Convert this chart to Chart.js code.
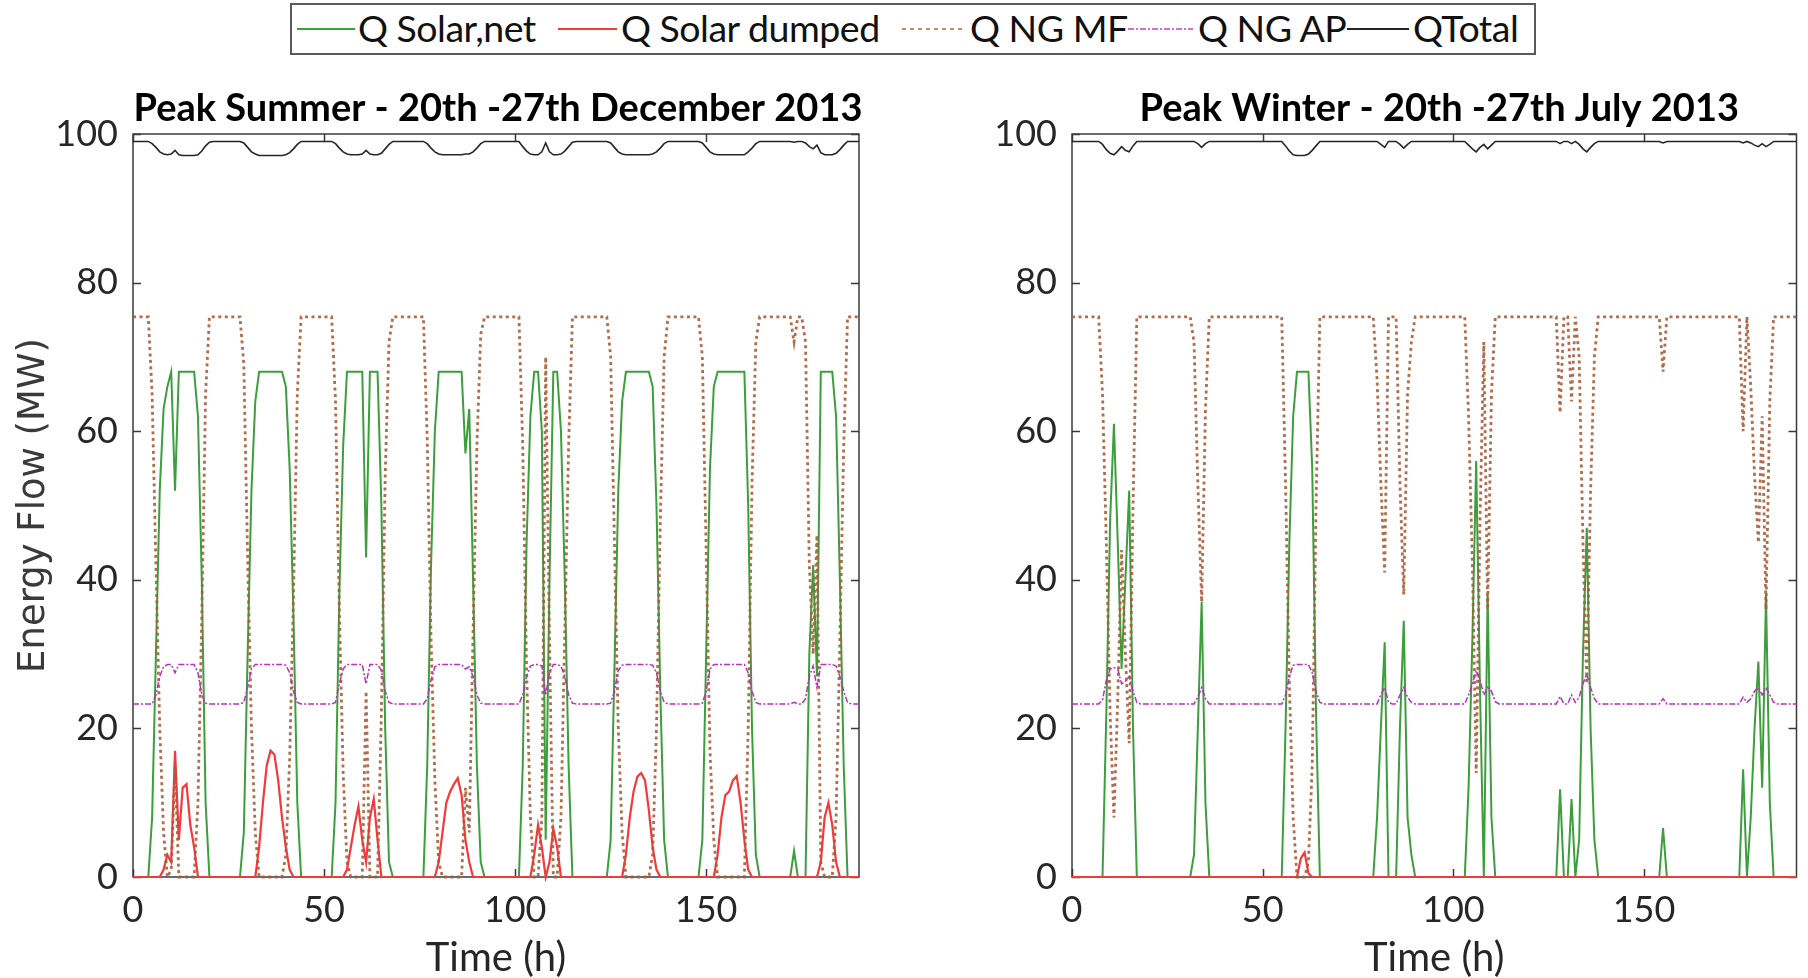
<!DOCTYPE html>
<html><head><meta charset="utf-8">
<script src="https://cdn.jsdelivr.net/npm/chart.js@4.4.1/dist/chart.umd.min.js"></script>
<style>
html,body{margin:0;padding:0;background:#fff;}
#wrap{position:relative;width:1808px;height:978px;overflow:hidden;background:#fff;}
canvas{position:absolute;}
#legend{position:absolute;left:290px;top:3px;width:1246px;height:52px;border:2px solid #5a5a5a;box-sizing:border-box;background:#fff;font-family:Lato,'Liberation Sans',sans-serif;font-size:37.5px;color:#111;}
.li{position:absolute;top:-1px;height:48px;line-height:48px;white-space:nowrap;letter-spacing:-0.5px;}
.ls{position:absolute;top:22px;}
</style></head>
<body>
<div id="wrap">
  <div id="legend">
    <svg class="ls" style="left:5px" width="58" height="4"><line x1="0" y1="2" x2="58" y2="2" stroke="#3c9e3c" stroke-width="2"/></svg>
    <span class="li" style="left:66px">Q Solar,net</span>
    <svg class="ls" style="left:266px" width="59" height="4"><line x1="0" y1="2" x2="59" y2="2" stroke="#f23a3a" stroke-width="2"/></svg>
    <span class="li" style="left:329px">Q Solar dumped</span>
    <svg class="ls" style="left:610px" width="64" height="4"><line x1="0" y1="2" x2="64" y2="2" stroke="#c98a5e" stroke-width="2" stroke-dasharray="4,4"/></svg>
    <span class="li" style="left:678px">Q NG MF</span>
    <svg class="ls" style="left:836px" width="65" height="4"><line x1="0" y1="2" x2="65" y2="2" stroke="#d070d0" stroke-width="2" stroke-dasharray="6,2,2,2"/></svg>
    <span class="li" style="left:906px">Q NG AP</span>
    <svg class="ls" style="left:1055px" width="62" height="4"><line x1="0" y1="2" x2="62" y2="2" stroke="#262626" stroke-width="2"/></svg>
    <span class="li" style="left:1121px">QTotal</span>
  </div>
  <canvas id="c1" width="880" height="918" style="left:0px;top:60px;width:880px;height:918px"></canvas>
  <canvas id="c2" width="858" height="918" style="left:950px;top:60px;width:858px;height:918px"></canvas>
</div>
<script>
// ---- Peak Summer (20th-27th December 2013), hourly values, hours 0..190 ----
const summerSolarNet = [
  0,0,0,0,0,8,30,52,63,66,68,52,68,68,68,68,68,62,40,10,0,0,0,0,
  0,0,0,0,0,6,30,52,64,68,68,68,68,68,68,68,66,55,35,10,0,0,0,0,
  0,0,0,0,0,10,38,58,68,68,68,68,68,43,68,68,68,50,20,2,0,0,0,0,
  0,0,0,0,0,15,42,60,68,68,68,68,68,68,68,57,63,40,15,2,0,0,0,0,
  0,0,0,0,0,0,15,45,62,68,68,60,5,40,68,68,60,40,15,0,0,0,0,0,
  0,0,0,0,0,5,28,52,64,68,68,68,68,68,68,68,66,50,25,5,0,0,0,0,
  0,0,0,0,0,5,30,55,66,68,68,68,68,68,68,68,68,50,20,3,0,0,0,0,
  0,0,0,0,0,3.5,0,0,0,30,42,27,68,68,68,68,62,40,15,0,0,0,0
];
const summerDumped = [
  0,0,0,0,0,0,0,0,1,3,2,17,5,12,12.5,7,4,0,0,0,0,0,0,0,
  0,0,0,0,0,0,0,0,0,4,10,15,17,16.5,13,8,4,1,0,0,0,0,0,0,
  0,0,0,0,0,0,0,0,1,4,7,9.5,5,2,8,10.5,5,0,0,0,0,0,0,0,
  0,0,0,0,0,0,0,0,2,6,10,11.5,12.5,13.3,11,5,2,0,0,0,0,0,0,0,
  0,0,0,0,0,0,0,0,0,3,7,4,0,2,6.5,4,0,0,0,0,0,0,0,0,
  0,0,0,0,0,0,0,0,0,3,8,11.5,13.5,14,13,9,4,1,0,0,0,0,0,0,
  0,0,0,0,0,0,0,0,0,3,8,11,11.5,13,13.6,10,5,1,0,0,0,0,0,0,
  0,0,0,0,0,0,0,0,0,0,0,0,2,8,10,7,2,0,0,0,0,0,0
];
const summerNgMF = [
  75.4,75.4,75.4,75.4,75.4,65,42,20,6,0,1,15,0,0,0,0,0,10,35,65,75.4,75.4,75.4,75.4,
  75.4,75.4,75.4,75.4,75.4,69,43,20,6,0,0,0,0,0,0,0,3,16,38,65,75.4,75.4,75.4,75.4,
  75.4,75.4,75.4,75.4,75.4,64,36,14,2,0,0,0,0,25,0,0,0,22,54,72,75.4,75.4,75.4,75.4,
  75.4,75.4,75.4,75.4,75.4,59,32,13,2,0,0,0,0,0,0,12,6,33,58,73,75.4,75.4,75.4,75.4,
  75.4,75.4,75.4,75.4,75.4,75.4,58,28,8,0,0,8,70,32,0,0,8,33,58,75.4,75.4,75.4,75.4,75.4,
  75.4,75.4,75.4,75.4,75.4,70,45,20,6,0,0,0,0,0,0,0,3,20,48,70,75.4,75.4,75.4,75.4,
  75.4,75.4,75.4,75.4,75.4,70,44,17,5,0,0,0,0,0,0,0,0,20,53,72,75.4,75.4,75.4,75.4,
  75.4,75.4,75.4,75.4,75.4,72,75.4,75.4,72,42,30,46,2,0,0,0,8,32,58,75.4,75.4,75.4,75.4
];
const summerNgAP = [
  23.3,23.3,23.3,23.3,23.3,23.3,24.5,27,28.3,28.6,28.6,27.5,28.6,28.6,28.6,28.6,28.6,27.5,24.5,23.4,23.3,23.3,23.3,23.3,
  23.3,23.3,23.3,23.3,23.3,23.5,25.5,28,28.6,28.6,28.6,28.6,28.6,28.6,28.6,28.6,28.5,27.5,25,23.5,23.3,23.3,23.3,23.3,
  23.3,23.3,23.3,23.3,23.3,23.5,26,28,28.6,28.6,28.6,28.6,28.6,26,28.6,28.6,28.6,27.8,25,23.5,23.3,23.3,23.3,23.3,
  23.3,23.3,23.3,23.3,23.3,24,26.5,28.3,28.6,28.6,28.6,28.6,28.6,28.6,28.6,28,28.3,27,24.5,23.4,23.3,23.3,23.3,23.3,
  23.3,23.3,23.3,23.3,23.3,23.3,24.5,27,28.4,28.6,28.6,28.4,24.5,27.5,28.6,28.6,28.4,27,24.5,23.4,23.3,23.3,23.3,23.3,
  23.3,23.3,23.3,23.3,23.3,23.4,25,27.8,28.5,28.6,28.6,28.6,28.6,28.6,28.6,28.6,28.5,27.5,25,23.5,23.3,23.3,23.3,23.3,
  23.3,23.3,23.3,23.3,23.3,23.4,25,28,28.6,28.6,28.6,28.6,28.6,28.6,28.6,28.6,28.6,27.5,25,23.5,23.3,23.3,23.3,23.3,
  23.3,23.3,23.3,23.3,23.3,23.5,23.3,23.3,24,27,28.4,25.5,28.6,28.6,28.6,28.6,28.4,27,25,23.5,23.3,23.3,23.3
];
const summerTotal = [
  99,99,99,99,99,98.7,98.2,97.6,97.3,97.2,97.3,97.8,97.2,97.1,97.1,97.1,97.1,97.2,97.7,98.4,98.9,99,99,99,
  99,99,99,99,99,98.8,98.2,97.6,97.3,97.1,97.1,97.1,97.1,97.1,97.1,97.1,97.2,97.5,98,98.6,99,99,99,99,
  99,99,99,99,99,98.7,98.1,97.6,97.3,97.2,97.2,97.2,97.3,97.8,97.3,97.2,97.2,97.4,98,98.6,99,99,99,99,
  99,99,99,99,99,98.7,98.1,97.6,97.3,97.2,97.2,97.2,97.2,97.2,97.2,97.3,97.3,97.6,98.1,98.7,99,99,99,99,
  99,99,99,99,99,99,98.3,97.7,97.3,97.2,97.2,97.6,98.8,97.6,97.2,97.2,97.3,97.7,98.3,98.9,99,99,99,99,
  99,99,99,99,99,98.8,98.2,97.6,97.3,97.2,97.2,97.2,97.2,97.2,97.2,97.2,97.3,97.6,98.1,98.7,99,99,99,99,
  99,99,99,99,99,98.8,98.2,97.6,97.3,97.2,97.2,97.2,97.2,97.2,97.2,97.2,97.2,97.6,98.1,98.7,99,99,99,99,
  99,99,99,99,99,98.9,99,99,98.8,98.3,98,98.5,97.5,97.2,97.2,97.2,97.4,97.9,98.5,99,99,99,99
];

// ---- Peak Winter (20th-27th July 2013), hourly values, hours 0..190 ----
const winterSolarNet = [
  0,0,0,0,0,0,0,0,0,22,48,61,45,28,40,52,20,0,0,0,0,0,0,0,
  0,0,0,0,0,0,0,0,3,20,37,10,0,0,0,0,0,0,0,0,0,0,0,0,
  0,0,0,0,0,0,0,0,20,45,62,68,68,68,68,55,22,0,0,0,0,0,0,0,
  0,0,0,0,0,0,0,0,8,20,31.6,0,0,0,20,34.5,8,3,0,0,0,0,0,0,
  0,0,0,0,0,0,0,0,12,32,56,25,0,38,8,0,0,0,0,0,0,0,0,0,
  0,0,0,0,0,0,0,0,11.8,0,0,10.5,0,5,30,47,20,5,0,0,0,0,0,0,
  0,0,0,0,0,0,0,0,0,0,0,6.6,0,0,0,0,0,0,0,0,0,0,0,0,
  0,0,0,0,0,0,0,0,14.5,0,8,20,29,12,38,10,0,0,0,0,0,0,0
];
const winterDumped = [
  0,0,0,0,0,0,0,0,0,0,0,0,0,0,0,0,0,0,0,0,0,0,0,0,
  0,0,0,0,0,0,0,0,0,0,0,0,0,0,0,0,0,0,0,0,0,0,0,0,
  0,0,0,0,0,0,0,0,0,0,0,0,2.5,3.3,0.5,0,0,0,0,0,0,0,0,0,
  0,0,0,0,0,0,0,0,0,0,0,0,0,0,0,0,0,0,0,0,0,0,0,0,
  0,0,0,0,0,0,0,0,0,0,0,0,0,0,0,0,0,0,0,0,0,0,0,0,
  0,0,0,0,0,0,0,0,0,0,0,0,0,0,0,0,0,0,0,0,0,0,0,0,
  0,0,0,0,0,0,0,0,0,0,0,0,0,0,0,0,0,0,0,0,0,0,0,0,
  0,0,0,0,0,0,0,0,0,0,0,0,0,0,0,0,0,0,0,0,0,0,0
];
const winterNgMF = [
  75.4,75.4,75.4,75.4,75.4,75.4,75.4,75.4,65,45,22,8,24,44,30,18,50,75.4,75.4,75.4,75.4,75.4,75.4,75.4,
  75.4,75.4,75.4,75.4,75.4,75.4,75.4,75.4,72,53,37,63,75.4,75.4,75.4,75.4,75.4,75.4,75.4,75.4,75.4,75.4,75.4,75.4,
  75.4,75.4,75.4,75.4,75.4,75.4,75.4,75.4,53,26,8,0,0,0,2,15,50,75.4,75.4,75.4,75.4,75.4,75.4,75.4,
  75.4,75.4,75.4,75.4,75.4,75.4,75.4,75.4,67,53,41,75.4,75.4,75.4,53,38,65,72,75.4,75.4,75.4,75.4,75.4,75.4,
  75.4,75.4,75.4,75.4,75.4,75.4,75.4,75.4,62,42,14,48,72,36,65,75.4,75.4,75.4,75.4,75.4,75.4,75.4,75.4,75.4,
  75.4,75.4,75.4,75.4,75.4,75.4,75.4,75.4,62.5,75.4,75.4,64,75.4,70,45,26,52,70,75.4,75.4,75.4,75.4,75.4,75.4,
  75.4,75.4,75.4,75.4,75.4,75.4,75.4,75.4,75.4,75.4,75.4,68,75.4,75.4,75.4,75.4,75.4,75.4,75.4,75.4,75.4,75.4,75.4,75.4,
  75.4,75.4,75.4,75.4,75.4,75.4,75.4,75.4,60,75.4,66,54,45,62,36,64,75.4,75.4,75.4,75.4,75.4,75.4,75.4
];
const winterNgAP = [
  23.3,23.3,23.3,23.3,23.3,23.3,23.3,23.3,23.8,26.5,28,28.2,28,26,26.3,27,25,23.5,23.3,23.3,23.3,23.3,23.3,23.3,
  23.3,23.3,23.3,23.3,23.3,23.3,23.3,23.3,23.3,24.2,25.5,24,23.3,23.3,23.3,23.3,23.3,23.3,23.3,23.3,23.3,23.3,23.3,23.3,
  23.3,23.3,23.3,23.3,23.3,23.3,23.3,23.3,24.5,27,28.5,28.6,28.6,28.6,28.6,27.5,25,23.5,23.3,23.3,23.3,23.3,23.3,23.3,
  23.3,23.3,23.3,23.3,23.3,23.3,23.3,23.3,23.3,24.5,25.5,23.5,23.3,23.3,24.5,25.5,24.2,23.5,23.3,23.3,23.3,23.3,23.3,23.3,
  23.3,23.3,23.3,23.3,23.3,23.3,23.3,23.3,24.5,26,27.8,26.5,24.5,25.5,25,23.6,23.3,23.3,23.3,23.3,23.3,23.3,23.3,23.3,
  23.3,23.3,23.3,23.3,23.3,23.3,23.3,23.3,24.3,23.3,23.3,24.5,23.5,24.2,26,27.3,25.5,24,23.3,23.3,23.3,23.3,23.3,23.3,
  23.3,23.3,23.3,23.3,23.3,23.3,23.3,23.3,23.3,23.3,23.3,24,23.3,23.3,23.3,23.3,23.3,23.3,23.3,23.3,23.3,23.3,23.3,23.3,
  23.3,23.3,23.3,23.3,23.3,23.3,23.3,23.3,24.2,23.5,24,25,25.5,24.5,25.5,24.5,23.5,23.3,23.3,23.3,23.3,23.3,23.3
];
const winterTotal = [
  99,99,99,99,99,99,99,99,98.6,97.9,97.4,97.2,97.7,98.3,97.8,97.6,98.4,99,99,99,99,99,99,99,
  99,99,99,99,99,99,99,99,99,98.7,98.2,98.7,99,99,99,99,99,99,99,99,99,99,99,99,
  99,99,99,99,99,99,99,99,98.4,97.7,97.2,97.1,97.1,97.1,97.3,97.8,98.4,99,99,99,99,99,99,99,
  99,99,99,99,99,99,99,99,99,98.6,98.2,99,99,99,98.6,98.1,98.6,99,99,99,99,99,99,99,
  99,99,99,99,99,99,99,99,98.5,98,97.6,98.2,98.6,98,98.5,99,99,99,99,99,99,99,99,99,
  99,99,99,99,99,99,99,99,98.7,99,99,98.7,99,98.6,98,97.6,98.2,98.7,99,99,99,99,99,99,
  99,99,99,99,99,99,99,99,99,99,99,98.8,99,99,99,99,99,99,99,99,99,99,99,99,
  99,99,99,99,99,99,99,99,98.8,99,98.8,98.5,98.3,98.7,98.3,98.6,99,99,99,99,99,99,99
];

const xTicks = [0, 50, 100, 150];
const yTicks = [0, 20, 40, 60, 80, 100];
const seriesNames = ['Q Solar,net', 'Q Solar dumped', 'Q NG MF', 'Q NG AP', 'QTotal'];

[summerSolarNet, summerDumped, summerNgMF, summerNgAP, summerTotal,
 winterSolarNet, winterDumped, winterNgMF, winterNgAP, winterTotal].forEach((a, k) => {
  if (a.length !== 191) throw new Error('series ' + k + ' has length ' + a.length);
});

const FONT = "Lato, 'Liberation Sans', sans-serif";

const frame = {
  id: 'frame',
  beforeDatasetsDraw(chart, args, o) {
    const {ctx, chartArea: a, scales: {x, y}} = chart;
    ctx.save();
    ctx.strokeStyle = '#3a3a3a';
    ctx.lineWidth = 1.5;
    ctx.strokeRect(a.left, a.top, a.right - a.left, a.bottom - a.top);
    ctx.beginPath();
    const L = 8;
    x.ticks.forEach(t => {
      const p = Math.round(x.getPixelForValue(t.value)) + 0.5;
      ctx.moveTo(p, a.bottom); ctx.lineTo(p, a.bottom - L);
      ctx.moveTo(p, a.top); ctx.lineTo(p, a.top + L);
    });
    y.ticks.forEach(t => {
      const p = Math.round(y.getPixelForValue(t.value)) + 0.5;
      ctx.moveTo(a.left, p); ctx.lineTo(a.left + L, p);
      ctx.moveTo(a.right, p); ctx.lineTo(a.right - L, p);
    });
    ctx.stroke();
    ctx.fillStyle = '#000';
    ctx.font = 'bold 38px ' + FONT;
    ctx.textAlign = 'center';
    ctx.textBaseline = 'alphabetic';
    ctx.fillText(o.text, (a.left + a.right) / 2 + (o.dx || 0), a.top - 13);
    ctx.restore();
  }
};

function datasets(solar, dumped, mf, ap, total) {
  const pts = arr => arr.map((v, i) => ({x: i, y: v}));
  return [
    {label: seriesNames[0], data: pts(solar), borderColor: '#3c9e3c', borderWidth: 2, order: 4},
    {label: seriesNames[1], data: pts(dumped), borderColor: '#f23a3a', borderWidth: 2.2, order: 3},
    {label: seriesNames[2], data: pts(mf), borderColor: 'rgba(168,92,56,0.9)', borderWidth: 2.8, borderDash: [3, 3.5], order: 2},
    {label: seriesNames[3], data: pts(ap), borderColor: '#b832b8', borderWidth: 1.5, borderDash: [6, 2, 2, 2], order: 1},
    {label: seriesNames[4], data: pts(total), borderColor: '#262626', borderWidth: 1.6, order: 0}
  ].map(d => Object.assign(d, {pointRadius: 0, tension: 0, fill: false, clip: 5}));
}

function options(title, dx, yTitle, yWidth, padRight) {
  return {
    responsive: false, animation: false, devicePixelRatio: 1,
    layout: {padding: {left: 0, right: padRight, top: 74, bottom: 0}},
    plugins: {legend: {display: false}, tooltip: {enabled: false}, title: {display: false},
      frame: {text: title, dx: dx}},
    scales: {
      x: {
        type: 'linear', min: 0, max: 190,
        grid: {display: false, drawTicks: false}, border: {display: false},
        afterBuildTicks: s => { s.ticks = xTicks.map(v => ({value: v})); },
        ticks: {padding: 12, color: '#262626', font: {family: FONT, size: 36}, maxRotation: 0, autoSkip: false},
        afterFit: s => { s.height = 101; },
        title: {display: true, text: 'Time (h)', color: '#262626', font: {family: FONT, size: 40, lineHeight: 1}, padding: {top: 0, bottom: 0}}
      },
      y: {
        type: 'linear', min: 0, max: 100,
        grid: {display: false, drawTicks: false}, border: {display: false},
        afterBuildTicks: s => { s.ticks = yTicks.map(v => ({value: v})); },
        ticks: {padding: 15, color: '#262626', font: {family: FONT, size: 36}, autoSkip: false},
        afterFit: s => { s.width = yWidth; },
        title: {display: !!yTitle, text: yTitle || '', color: '#3a3a3a',
          font: {family: "'DejaVu Sans', sans-serif", size: 37, lineHeight: 1.2}, padding: {top: 12, bottom: 0}}
      }
    }
  };
}

new Chart(document.getElementById('c1'), {
  type: 'line',
  data: {datasets: datasets(summerSolarNet, summerDumped, summerNgMF, summerNgAP, summerTotal)},
  options: options('Peak Summer - 20th -27th December 2013', 2, 'Energy Flow (MW)', 133, 21),
  plugins: [frame]
});
new Chart(document.getElementById('c2'), {
  type: 'line',
  data: {datasets: datasets(winterSolarNet, winterDumped, winterNgMF, winterNgAP, winterTotal)},
  options: options('Peak Winter - 20th -27th July 2013', 5, '', 122, 11.5),
  plugins: [frame]
});
</script>
</body></html>
